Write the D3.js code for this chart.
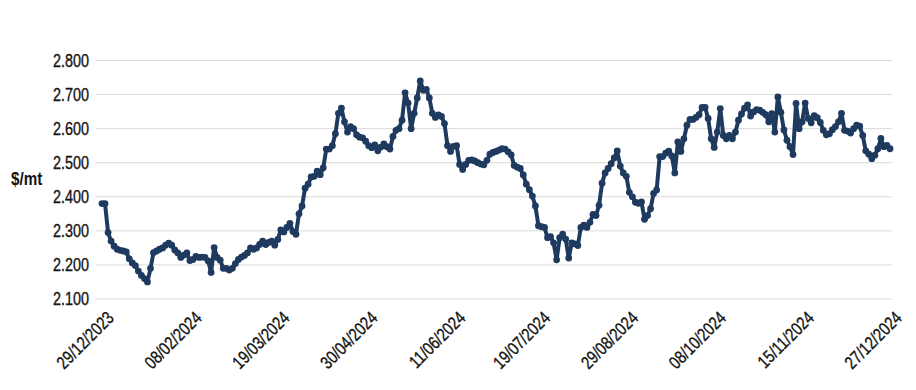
<!DOCTYPE html>
<html>
<head>
<meta charset="utf-8">
<script src="https://cdn.jsdelivr.net/npm/d3@7"></script>
<style>
  body { margin: 0; background: #fff; }
  text { font-family: "Liberation Sans", Arial, sans-serif; }
</style>
</head>
<body>
<div id="chart"></div>
<script>
// daily price, $/mt, one value per trading day 29/12/2023 .. 27/12/2024
const prices = [
  2.38, 2.38, 2.295, 2.27, 2.255, 2.246, 2.243, 2.241, 2.238, 2.218,
  2.206, 2.198, 2.182, 2.169, 2.16, 2.15, 2.19, 2.236, 2.241, 2.246,
  2.25, 2.258, 2.264, 2.258, 2.244, 2.235, 2.222, 2.229, 2.235, 2.213,
  2.216, 2.225, 2.222, 2.223, 2.222, 2.212, 2.178, 2.251, 2.222, 2.214,
  2.19, 2.19, 2.185, 2.19, 2.204, 2.216, 2.223, 2.228, 2.235, 2.25,
  2.246, 2.25, 2.26, 2.27, 2.26, 2.266, 2.27, 2.258, 2.275, 2.303,
  2.297, 2.31, 2.322, 2.298, 2.29, 2.35, 2.373, 2.425, 2.437, 2.458,
  2.46, 2.475, 2.465, 2.485, 2.54, 2.54, 2.55, 2.585, 2.645, 2.66,
  2.62, 2.59, 2.606, 2.6, 2.582, 2.575, 2.573, 2.563, 2.55, 2.544,
  2.552, 2.535, 2.546, 2.555, 2.547, 2.54, 2.577, 2.595, 2.6, 2.625,
  2.705, 2.675, 2.6, 2.645, 2.69, 2.74, 2.713, 2.715, 2.69, 2.645,
  2.633, 2.64, 2.636, 2.615, 2.55, 2.533, 2.548, 2.55, 2.495, 2.48,
  2.495, 2.507, 2.508, 2.505, 2.5, 2.496, 2.494, 2.507, 2.525, 2.53,
  2.533, 2.537, 2.541, 2.54, 2.532, 2.523, 2.492, 2.487, 2.483, 2.464,
  2.437, 2.421, 2.402, 2.373, 2.315, 2.312, 2.31, 2.28, 2.283, 2.265,
  2.215, 2.28, 2.29, 2.276, 2.22, 2.265, 2.262, 2.257, 2.31, 2.317,
  2.31, 2.325, 2.348, 2.345, 2.375, 2.44, 2.47, 2.483, 2.497, 2.514,
  2.535, 2.49, 2.47, 2.46, 2.413, 2.4, 2.384, 2.381, 2.385, 2.334,
  2.345, 2.365, 2.41, 2.42, 2.518, 2.518, 2.528, 2.534, 2.52, 2.47,
  2.561, 2.533, 2.57, 2.61, 2.627, 2.627, 2.633, 2.641, 2.662, 2.662,
  2.63, 2.57, 2.545, 2.59, 2.659, 2.58, 2.57, 2.58, 2.57, 2.59,
  2.625, 2.643, 2.66, 2.67, 2.637, 2.649, 2.656, 2.654, 2.648, 2.641,
  2.62, 2.644, 2.59, 2.693, 2.648, 2.596, 2.566, 2.547, 2.524, 2.674,
  2.6, 2.62, 2.675, 2.63, 2.617, 2.638, 2.632, 2.618, 2.595, 2.582,
  2.585, 2.597, 2.606, 2.62, 2.645, 2.595, 2.593, 2.587, 2.6, 2.61,
  2.607, 2.58, 2.535, 2.525, 2.512, 2.522, 2.541, 2.571, 2.547, 2.551,
  2.541
];

const dateLabels = [
  '29/12/2023', '08/02/2024', '19/03/2024', '30/04/2024', '11/06/2024',
  '19/07/2024', '29/08/2024', '08/10/2024', '15/11/2024', '27/12/2024'
];

const yTicks = [2.1, 2.2, 2.3, 2.4, 2.5, 2.6, 2.7, 2.8];
const unitLabel = '$/mt';

const width = 916, height = 390;
const lineColor = '#1f3a5f';
const textColor = '#141414';
const narrow = 'scale(0.8,1)'; // condensed look, no narrow font installed

const svg = d3.select('#chart').append('svg')
    .attr('width', width)
    .attr('height', height)

const x = d3.scaleLinear()
    .domain([0, prices.length - 1])
    .range([102, 890])
const y = d3.scaleLinear()
    .domain([2.1, 2.8])
    .range([299, 60.5])

// gridlines + y labels
const yAxis = svg.append('g')
yAxis.selectAll('line')
    .data(yTicks)
    .enter()
    .append('line')
    .attr('x1', 96)
    .attr('x2', 892)
    .attr('y1', d => y(d))
    .attr('y2', d => y(d))
    .style('stroke', '#d9d9d9')
    .style('stroke-width', 1)
yAxis.selectAll('text')
    .data(yTicks)
    .enter()
    .append('text')
    .attr('transform', d => `translate(89,${y(d)}) ${narrow}`)
    .attr('dy', '0.35em')
    .attr('text-anchor', 'end')
    .style('font-size', '18px')
    .style('fill', textColor)
    .style('stroke', textColor)
    .style('stroke-width', 0.35)
    .text(d => d3.format('.3f')(d))

svg.append('text')
    .attr('transform', `translate(11,178) ${narrow}`)
    .attr('dy', '0.35em')
    .style('font-size', '19px')
    .style('font-weight', 'bold')
    .style('fill', textColor)
    .text(unitLabel)

// x labels, evenly spread over the trading days
const step = (prices.length - 1) / (dateLabels.length - 1)
svg.append('g')
    .selectAll('text')
    .data(dateLabels)
    .enter()
    .append('text')
    .attr('transform', (d, i) => `translate(${x(Math.round(i * step)) + 13},319) rotate(-45) ${narrow}`)
    .attr('text-anchor', 'end')
    .style('font-size', '18px')
    .style('fill', textColor)
    .style('stroke', textColor)
    .style('stroke-width', 0.35)
    .text(d => d)

// series
const line = d3.line()
    .x((d, i) => x(i))
    .y(d => y(d))

svg.append('path')
    .datum(prices)
    .attr('d', line)
    .style('fill', 'none')
    .style('stroke', lineColor)
    .style('stroke-width', 4)
    .style('stroke-linejoin', 'round')

svg.append('g')
    .selectAll('circle')
    .data(prices)
    .enter()
    .append('circle')
    .attr('cx', (d, i) => x(i))
    .attr('cy', d => y(d))
    .attr('r', 3.4)
    .style('fill', lineColor)
</script>
</body>
</html>
